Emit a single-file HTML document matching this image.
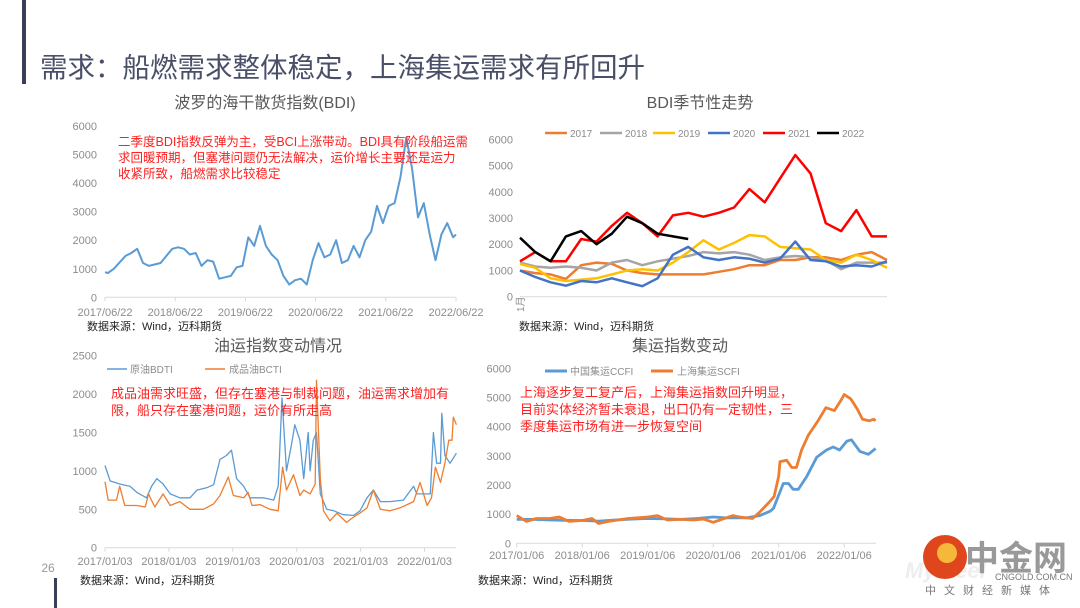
<!DOCTYPE html>
<html><head><meta charset="utf-8">
<style>
html,body{margin:0;padding:0;background:#fff;}
body{width:1080px;height:608px;position:relative;overflow:hidden;font-family:"Liberation Sans","Noto Sans CJK SC",sans-serif;}
svg{position:absolute;left:0;top:0;}
text{font-family:"Liberation Sans","Noto Sans CJK SC",sans-serif;}
</style></head>
<body>
<svg id="s" width="1080" height="608" viewBox="0 0 1080 608">
<rect x="22" y="0" width="4" height="84" fill="#3a3f58"/>
<text x="40" y="77" font-size="27.5" fill="#4a4f68">需求：船燃需求整体稳定，上海集运需求有所回升</text>
<rect x="54" y="578" width="3" height="30" fill="#3a3f58"/>
<text x="48" y="572" font-size="12" fill="#999" text-anchor="middle">26</text>

<text x="265" y="108" font-size="16" fill="#595959" text-anchor="middle">波罗的海干散货指数(BDI)</text>
<text x="700" y="108" font-size="16" fill="#595959" text-anchor="middle">BDI季节性走势</text>
<text x="278" y="351" font-size="16" fill="#595959" text-anchor="middle">油运指数变动情况</text>
<text x="680" y="351" font-size="16" fill="#595959" text-anchor="middle">集运指数变动</text>

<g id="c1"></g>
<g id="c2"></g>
<g id="c3"></g>
<g id="c4"></g>

<g font-size="12.5" fill="#ff2020">
<text x="118" y="146">二季度BDI指数反弹为主，受BCI上涨带动。BDI具有阶段船运需</text>
<text x="118" y="162">求回暖预期，但塞港问题仍无法解决，运价增长主要还是运力</text>
<text x="118" y="178">收紧所致，船燃需求比较稳定</text>
</g>
<g font-size="13" fill="#ff2020">
<text x="111" y="398">成品油需求旺盛，但存在塞港与制裁问题，油运需求增加有</text>
<text x="111" y="415">限，船只存在塞港问题，运价有所走高</text>
</g>
<g font-size="13" fill="#ff2020">
<text x="520" y="397">上海逐步复工复产后，上海集运指数回升明显，</text>
<text x="520" y="414">目前实体经济暂未衰退，出口仍有一定韧性，三</text>
<text x="520" y="431">季度集运市场有进一步恢复空间</text>
</g>

<g font-size="11" fill="#222">
<text x="87" y="330">数据来源：Wind，迈科期货</text>
<text x="519" y="330">数据来源：Wind，迈科期货</text>
<text x="80" y="584">数据来源：Wind，迈科期货</text>
<text x="478" y="584">数据来源：Wind，迈科期货</text>
</g>

<g>
<text x="905" y="578" font-size="22" font-weight="bold" font-style="italic" fill="#eeeeee">Mysteel</text>
<circle cx="945" cy="557" r="22" fill="#e0461e"/>
<circle cx="947" cy="553" r="10" fill="#f5b83a"/>
<text x="965" y="570" font-size="34" font-weight="bold" fill="#999">中金网</text>
<text x="995" y="580" font-size="9" fill="#777">CNGOLD.COM.CN</text>
<text x="925" y="594" font-size="11" fill="#777" letter-spacing="8">中文财经新媒体</text>
</g>
</svg>
<script>
const bdiMonths=[0,0.5,1.5,3.5,4.5,5.5,6.5,7.5,9.5,10.5,11.5,12.5,13.5,14.5,15.5,16.5,17.5,18.5,19.5,20.5,21.5,22.5,23.5,24.5,25.5,26.5,27.5,28.5,29.5,30.5,31.5,32.5,33.5,34.5,35.5,36.5,37.5,38.5,39.5,40.5,41.5,42.5,43.5,44.5,45.5,46.5,47.5,48.5,49.5,50.5,51.5,52.5,53.5,54.5,55.5,56.5,57.5,58.5,59.5,60];
const bdiValues=[880,850,1000,1450,1550,1700,1200,1100,1200,1450,1700,1750,1700,1500,1550,1100,1300,1250,650,700,750,1050,1100,2100,1800,2500,1800,1500,1300,750,450,600,650,450,1300,1900,1400,1500,2000,1200,1300,1800,1400,2000,2300,3200,2600,3200,3300,4200,5600,4500,2800,3300,2200,1300,2200,2600,2100,2200];
const bdiYTicks=[0,1000,2000,3000,4000,5000,6000];
const bdiXLabels=["2017/06/22","2018/06/22","2019/06/22","2020/06/22","2021/06/22","2022/06/22"];

const seasonYears=["2017","2018","2019","2020","2021","2022"];
const seasonColors=["#ed7d31","#a5a5a5","#ffc000","#4472c4","#ff0000","#000000"];
const s2017=[1000,900,850,680,1200,1300,1250,1000,900,850,850,850,850,950,1050,1200,1200,1400,1400,1500,1500,1400,1600,1700,1400];
const s2018=[1300,1150,1100,1150,1100,1000,1300,1400,1200,1350,1450,1550,1700,1650,1700,1600,1400,1500,1550,1500,1400,1050,1300,1300,1300];
const s2019=[1250,1100,700,600,650,700,850,1000,1050,1000,1300,1700,2150,1800,2050,2350,2300,1900,1850,1800,1400,1300,1600,1400,1100];
const s2020=[1000,750,550,420,600,550,700,550,400,700,1600,1900,1500,1400,1500,1450,1300,1450,2100,1400,1350,1150,1200,1150,1350];
const s2021=[1350,1700,1350,1350,2200,2100,2700,3200,2800,2300,3100,3200,3050,3200,3400,4100,3600,4500,5400,4700,2800,2500,3300,2300,2300];
const s2022=[2250,1700,1350,2300,2500,2000,2400,3050,2800,2400,2300,2200];
const seasonTicks=[0,1000,2000,3000,4000,5000,6000];

const bdtiT=[0,.08,.23,.39,.5,.65,.73,.81,.91,1.02,1.17,1.33,1.44,1.59,1.7,1.8,1.9,1.98,2.06,2.17,2.27,2.37,2.48,2.64,2.71,2.77,2.84,2.92,2.97,3.05,3.11,3.18,3.21,3.26,3.31,3.37,3.47,3.58,3.73,3.89,3.99,4.1,4.2,4.31,4.46,4.67,4.83,4.88,4.98,5.09,5.14,5.19,5.25,5.27,5.32,5.4,5.5];
const bdtiV=[1070,870,830,800,720,650,800,900,830,700,650,650,750,780,820,1150,1200,1270,900,800,650,650,650,620,800,1950,1000,1350,1600,1400,900,1500,1000,1400,1500,700,500,480,430,420,480,650,750,600,600,620,800,700,700,700,1500,1100,1100,1750,1200,1100,1230];
const bctiT=[0,.05,.18,.23,.31,.5,.63,.68,.78,.91,1.02,1.17,1.33,1.54,1.7,1.8,1.93,2.01,2.17,2.24,2.3,2.43,2.58,2.71,2.78,2.84,2.95,3.05,3.11,3.21,3.29,3.31,3.37,3.42,3.52,3.63,3.78,3.89,3.99,4.1,4.2,4.31,4.46,4.62,4.83,4.93,5.04,5.11,5.17,5.25,5.32,5.38,5.43,5.45,5.5];
const bctiV=[860,620,620,800,550,550,530,700,530,700,550,600,500,500,570,680,920,680,650,720,550,560,500,480,1050,750,950,680,750,700,830,2180,900,480,350,450,330,400,450,520,750,500,480,520,600,850,550,650,1050,850,1100,1400,1400,1700,1600];
const tankerTicks=[0,500,1000,1500,2000,2500];
const tankerXLabels=["2017/01/03","2018/01/03","2019/01/03","2020/01/03","2021/01/03","2022/01/03"];

const ccfiT=[0,.25,.5,.75,1,1.25,1.5,1.75,2,2.25,2.5,2.75,3,3.2,3.5,3.71,3.87,3.92,4.07,4.15,4.22,4.3,4.43,4.58,4.73,4.83,4.93,5.04,5.11,5.24,5.37,5.48];
const ccfiV=[820,820,800,790,780,760,800,830,850,840,820,850,900,870,870,950,1100,1200,2050,2050,1850,1850,2300,2950,3200,3300,3200,3500,3550,3150,3050,3250];
const scfiT=[0,.15,.3,.5,.65,.8,1,1.15,1.25,1.4,1.7,2,2.15,2.3,2.5,2.7,2.85,3,3.1,3.3,3.4,3.6,3.7,3.85,3.93,4.0,4.02,4.12,4.2,4.27,4.35,4.45,4.6,4.72,4.85,4.95,5.0,5.1,5.2,5.28,5.38,5.45,5.48];
const scfiV=[950,750,850,850,900,750,780,850,680,750,850,900,950,800,820,800,830,720,800,950,900,850,1050,1400,1600,2300,2800,2850,2600,2600,3200,3700,4200,4650,4550,4900,5100,4950,4600,4250,4200,4250,4200];
const containerTicks=[0,1000,2000,3000,4000,5000,6000];
const containerXLabels=["2017/01/06","2018/01/06","2019/01/06","2020/01/06","2021/01/06","2022/01/06"];

const NS="http://www.w3.org/2000/svg";
function mk(parent,tag,attrs){const e=document.createElementNS(NS,tag);for(const k in attrs)e.setAttribute(k,attrs[k]);parent.appendChild(e);return e;}
function yAxis(g,ticks,ys,xr){ticks.forEach(t=>{const e=mk(g,'text',{x:xr,y:ys(t)+4,'font-size':11,fill:'#8c8c8c','text-anchor':'end'});e.textContent=t;

});}
function xAxis(g,x0,x1,y,labels,xs,ly){const l=mk(g,'line',{x1:x0,x2:x1,y1:y,y2:y,stroke:'#d9d9d9','stroke-width':1});


labels.forEach((lab,i)=>{const x=xs(i);mk(g,'line',{x1:x,x2:x,y1:y,y2:y+4,stroke:'#d9d9d9'});const e=mk(g,'text',{x:x,y:ly,'font-size':11,fill:'#8c8c8c','text-anchor':'middle'});e.textContent=lab;

});}
function line(g,xsArr,vals,xs,ys,color,w,name){const d=vals.map((v,i)=>(i?'L':'M')+xs(xsArr[i]).toFixed(1)+','+ys(v).toFixed(1)).join('');const p=mk(g,'path',{d:d,fill:'none',stroke:color,'stroke-width':w,'stroke-linejoin':'round'});

}

(function(){const g=document.getElementById('c1');
const ys=v=>297.3-v*(171.3/6000), xs=m=>105+m*(351/60);
yAxis(g,bdiYTicks,ys,97);
xAxis(g,105,456,297.3,bdiXLabels,i=>105+i*70.2,316);
line(g,bdiMonths,bdiValues,xs,ys,'#5b9bd5',2,'bdi-line');})();

(function(){const g=document.getElementById('c2');
const ys=v=>296.7-v*(157.4/6000), xs=k=>520+k*(367/24);
yAxis(g,seasonTicks,ys,513);
const ax=mk(g,'line',{x1:520,x2:887,y1:296.7,y2:296.7,stroke:'#d9d9d9'});


const lb=mk(g,'text',{x:0,y:0,'font-size':10,fill:'#8c8c8c',transform:'translate(524,312) rotate(-90)'});lb.textContent='1月';


const series=[s2017,s2018,s2019,s2020,s2021,s2022];
const lx=[545,600,653,708,763,817];
series.forEach((s,i)=>{line(g,s.map((_,k)=>k),s,xs,ys,seasonColors[i],2.5,'season-line-'+seasonYears[i]);
mk(g,'line',{x1:lx[i],x2:lx[i]+22,y1:133,y2:133,stroke:seasonColors[i],'stroke-width':2.5});
const t=mk(g,'text',{x:lx[i]+25,y:137,'font-size':10,fill:'#8c8c8c'});t.textContent=seasonYears[i];

});})();

(function(){const g=document.getElementById('c3');
const ys=v=>547.7-v*(192/2500), xs=t=>105+t*63.9;
yAxis(g,tankerTicks,ys,97);
xAxis(g,105,456,547.7,tankerXLabels,i=>105+i*63.9,565);
line(g,bdtiT,bdtiV,xs,ys,'#5b9bd5',1.3,'bdti-line');
line(g,bctiT,bctiV,xs,ys,'#ed7d31',1.3,'bcti-line');
mk(g,'line',{x1:107,x2:127,y1:369,y2:369,stroke:'#5b9bd5','stroke-width':1.5});
let t=mk(g,'text',{x:130,y:373,'font-size':10,fill:'#8c8c8c'});t.textContent='原油BDTI';


mk(g,'line',{x1:205,x2:225,y1:369,y2:369,stroke:'#ed7d31','stroke-width':1.5});
t=mk(g,'text',{x:229,y:373,'font-size':10,fill:'#8c8c8c'});t.textContent='成品油BCTI';

})();

(function(){const g=document.getElementById('c4');
const ys=v=>543.3-v*(175/6000), xs=t=>516.7+t*65.5;
yAxis(g,containerTicks,ys,511);
xAxis(g,516.7,876,543.3,containerXLabels,i=>516.7+i*65.5,559);
line(g,ccfiT,ccfiV,xs,ys,'#5b9bd5',2.8,'ccfi-line');
line(g,scfiT,scfiV,xs,ys,'#ed7d31',2.8,'scfi-line');
mk(g,'line',{x1:545,x2:567,y1:371,y2:371,stroke:'#5b9bd5','stroke-width':3});
let t=mk(g,'text',{x:570,y:375,'font-size':10,fill:'#8c8c8c'});t.textContent='中国集运CCFI';


mk(g,'line',{x1:651,x2:673,y1:371,y2:371,stroke:'#ed7d31','stroke-width':3});
t=mk(g,'text',{x:677,y:375,'font-size':10,fill:'#8c8c8c'});t.textContent='上海集运SCFI';

})();
</script>
</body></html>
